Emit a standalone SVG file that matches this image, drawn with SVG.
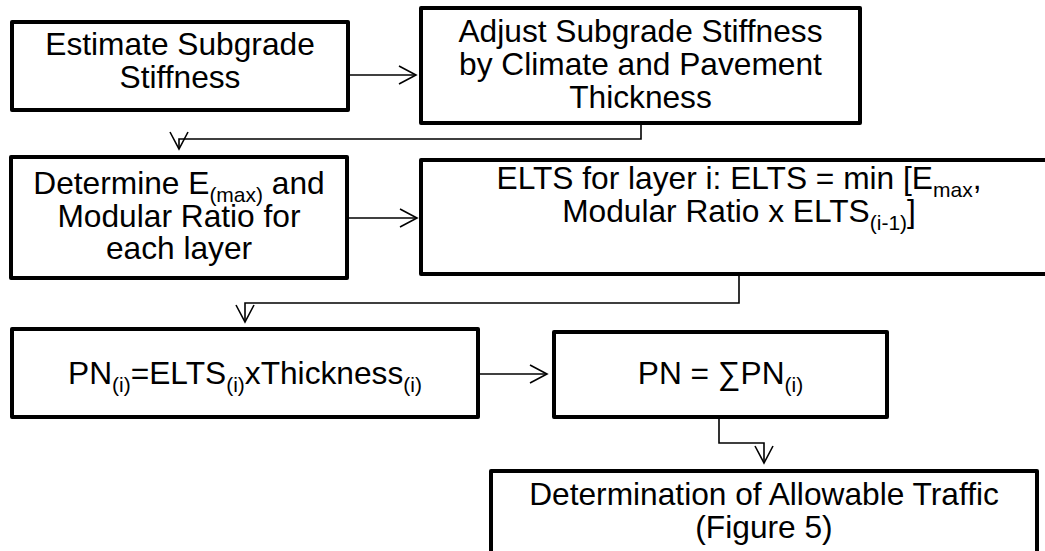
<svg xmlns="http://www.w3.org/2000/svg" width="1045" height="551" viewBox="0 0 1045 551">
<style>
.box{fill:#fff;stroke:#000;stroke-width:4;stroke-linejoin:round}
.t{font-family:"Liberation Sans",Arial,sans-serif;font-size:31.7px;fill:#000;text-anchor:middle}
.s{font-size:21px}
.c{fill:none;stroke:#000;stroke-width:1.6;marker-end:url(#ah)}
</style>
<defs>
<marker id="ah" viewBox="0 0 20 20" refX="18" refY="10" markerWidth="20" markerHeight="20" markerUnits="userSpaceOnUse" orient="auto">
<path d="M1,1 L18,10 L1,19" fill="none" stroke="#000" stroke-width="1.6"/>
</marker>
</defs>
<rect width="1045" height="551" fill="#fff"/>
<g id="connectors">
<path class="c" d="M348,75 H416"/>
<path class="c" d="M641,123 V139 H179 V149"/>
<path class="c" d="M347,218 H417"/>
<path class="c" d="M739,274 V303 H245 V322"/>
<path class="c" d="M478,374 H547"/>
<path class="c" d="M719,417 V443 H764 V463"/>
</g>
<g id="n1">
<rect class="box" x="12" y="22" width="336" height="88"/>
<text class="t" x="180" y="54.5">Estimate Subgrade</text>
<text class="t" x="180" y="87.5">Stiffness</text>
</g>
<g id="n2">
<rect class="box" x="421" y="8" width="439" height="115"/>
<text class="t" x="640.5" y="42">Adjust Subgrade Stiffness</text>
<text class="t" x="640.5" y="75">by Climate and Pavement</text>
<text class="t" x="640.5" y="107.5">Thickness</text>
</g>
<g id="n3">
<rect class="box" x="11" y="157" width="336" height="121"/>
<text class="t" x="179" y="193.5">Determine E<tspan class="s" dy="8">(max)</tspan><tspan dy="-8"> and</tspan></text>
<text class="t" x="179" y="226.5">Modular Ratio for</text>
<text class="t" x="179" y="258.5">each layer</text>
</g>
<g id="n4">
<rect class="box" x="421" y="160" width="640" height="114"/>
<text class="t" x="739" y="188.5">ELTS for layer i: ELTS = min [E<tspan class="s" dy="8">max</tspan><tspan dy="-8">,</tspan></text>
<text class="t" x="739" y="221.5">Modular Ratio x ELTS<tspan class="s" dy="8">(i-1)</tspan><tspan dy="-8">]</tspan></text>
</g>
<g id="n5">
<rect class="box" x="12" y="329" width="466" height="88"/>
<text class="t" x="245" y="383.5">PN<tspan class="s" dy="8">(i)</tspan><tspan dy="-8">=ELTS</tspan><tspan class="s" dy="8">(i)</tspan><tspan dy="-8">xThickness</tspan><tspan class="s" dy="8">(i)</tspan></text>
</g>
<g id="n6">
<rect class="box" x="554" y="332" width="333" height="85"/>
<text class="t" x="720.5" y="383.5">PN = ∑PN<tspan class="s" dy="8">(i)</tspan></text>
</g>
<g id="n7">
<rect class="box" x="491" y="471" width="546" height="100"/>
<text class="t" x="764" y="505">Determination of Allowable Traffic</text>
<text class="t" x="764" y="538">(Figure 5)</text>
</g>
</svg>
